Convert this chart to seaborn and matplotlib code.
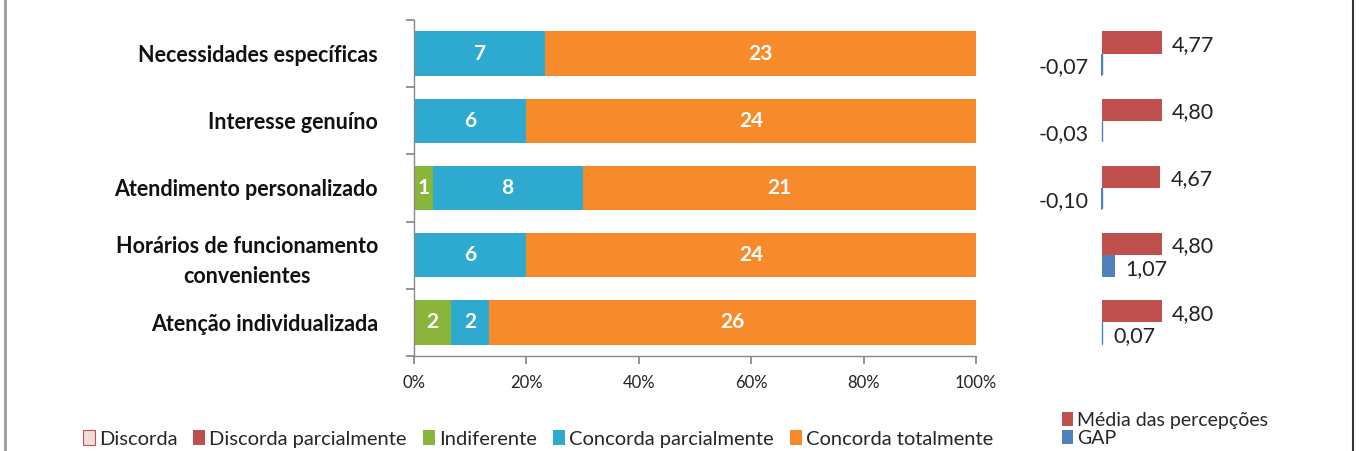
import numpy as np
import pandas as pd
import matplotlib
matplotlib.use('Agg')
import matplotlib.pyplot as plt
import seaborn as sns
from matplotlib.patches import Patch
from matplotlib.lines import Line2D

# ================= dados =================
ITENS = ['Necessidades específicas', 'Interesse genuíno', 'Atendimento personalizado',
         'Horários de funcionamento\nconvenientes', 'Atenção individualizada']
NIVEIS = ['Discorda', 'Discorda parcialmente', 'Indiferente',
          'Concorda parcialmente', 'Concorda totalmente']

discorda = [0, 0, 0, 0, 0]
discorda_parc = [0, 0, 0, 0, 0]
indiferente = [0, 0, 1, 0, 2]
concorda_parc = [7, 6, 8, 6, 2]
concorda_total = [23, 24, 21, 24, 26]

media = [4.77, 4.80, 4.67, 4.80, 4.80]
gap = [-0.07, -0.03, -0.10, 1.07, 0.07]

CORES = ['#F2DCDB', '#C0504D', '#8AB53B', '#2EAAD0', '#F78B2B']
COR_MEDIA = '#C0504D'
COR_GAP = '#4F81BD'
# =========================================

sns.set_theme(style='white')
plt.rcParams['font.family'] = ['Lato', 'DejaVu Sans']


def fmt(v):
    return f'{v:.2f}'.replace('.', ',')


contagens = np.array([discorda, discorda_parc, indiferente, concorda_parc, concorda_total], dtype=float)
total = contagens.sum(axis=0)
pct = contagens / total * 100
acum = np.cumsum(pct, axis=0)

fig = plt.figure(figsize=(13.66, 4.51), dpi=100)
ax = fig.add_axes([414 / 1366, 1 - 356 / 451, 562 / 1366, 336 / 451])

# barras empilhadas: desenha do acumulado maior para o menor
for i in range(len(NIVEIS) - 1, -1, -1):
    df = pd.DataFrame({'item': ITENS, 'valor': acum[i]})
    sns.barplot(data=df, x='valor', y='item', orient='h', color=CORES[i],
                saturation=1, width=0.66, ax=ax, edgecolor='none')

for j in range(len(ITENS)):
    for i in range(len(NIVEIS)):
        if contagens[i, j] > 0:
            centro = acum[i, j] - pct[i, j] / 2
            ax.text(centro, j, f'{int(contagens[i, j])}', ha='center', va='center',
                    color='white', fontsize=15, fontweight='bold')

ax.set_xlim(0, 100)
ax.set_ylim(len(ITENS) - 0.5, -0.5)
ax.set_xticks(np.arange(0, 101, 20))
ax.set_xticklabels([f'{v}%' for v in range(0, 101, 20)], fontsize=12, color='#222222')
ax.set_yticks(np.arange(-0.5, len(ITENS), 1))
ax.set_yticklabels([])
ax.set_yticks(np.arange(len(ITENS)), minor=True)
ax.set_yticklabels(ITENS, minor=True, fontsize=15.5, fontweight='bold',
                   multialignment='center', color='#111111', linespacing=1.5)
ax.tick_params(axis='y', which='minor', length=0, pad=26)
ax.tick_params(axis='y', which='major', length=6, color='#888888', direction='out', left=True)
ax.tick_params(axis='x', length=6, color='#888888', direction='out', bottom=True, pad=8)
ax.set_xlabel('')
ax.set_ylabel('')
for s in ['top', 'right']:
    ax.spines[s].set_visible(False)
for s in ['left', 'bottom']:
    ax.spines[s].set_color('#888888')
    ax.spines[s].set_linewidth(1)

# painel da direita: média e GAP
ax2 = fig.add_axes([1030 / 1366, 1 - 356 / 451, 270 / 1366, 336 / 451])
df2 = pd.DataFrame({
    'item': ITENS * 2,
    'valor': media + gap,
    'serie': ['Média das percepções'] * len(ITENS) + ['GAP'] * len(ITENS),
})
sns.barplot(data=df2, x='valor', y='item', hue='serie', orient='h',
            palette=[COR_MEDIA, COR_GAP], saturation=1, width=0.66,
            ax=ax2, legend=False, edgecolor='none')
ax2.set_xlim(-72 / 12.5, 198 / 12.5)
ax2.set_ylim(len(ITENS) - 0.5, -0.5)
ax2.axis('off')

for j in range(len(ITENS)):
    ax2.text(media[j] + 0.8, j - 0.13, fmt(media[j]), ha='left', va='center',
             fontsize=15.5, color='#222222')
    g = gap[j]
    if g < 0:
        ax2.plot([0, 0], [j, j + 0.3], color=COR_GAP, lw=1)
        ax2.text(-1.1, j + 0.2, fmt(g), ha='right', va='center', fontsize=15.5, color='#222222')
    else:
        if g < 0.3:
            ax2.plot([0, 0], [j, j + 0.3], color=COR_GAP, lw=1)
        ax2.text(max(g, 0) + 0.8, j + 0.2, fmt(g), ha='left', va='center',
                 fontsize=15.5, color='#222222')

# legendas
h1 = [Patch(facecolor=CORES[0], edgecolor='#C0504D', lw=0.8)] + \
     [Patch(facecolor=c, edgecolor='none') for c in CORES[1:]]
fig.legend(h1, NIVEIS, loc='center', bbox_to_anchor=(538 / 1366, 1 - 439 / 451),
           ncol=5, frameon=False, fontsize=14.5, handlelength=0.6, handleheight=0.7,
           handletextpad=0.2, columnspacing=0.8, borderpad=0)
h2 = [Patch(facecolor=COR_MEDIA, edgecolor='none'), Patch(facecolor=COR_GAP, edgecolor='none')]
fig.legend(h2, ['Média das percepções', 'GAP'], loc='upper left',
           bbox_to_anchor=(1052 / 1366, 1 - 402 / 451), ncol=1, frameon=False,
           fontsize=14, handlelength=0.6, handleheight=0.7, handletextpad=0.2,
           labelspacing=0.05, borderpad=0)

# bordas laterais da moldura
fig.add_artist(Line2D([5 / 1366, 5 / 1366], [0, 1], color='#999999', lw=2))
fig.add_artist(Line2D([1353 / 1366, 1353 / 1366], [0, 1], color='#333333', lw=1.5))

fig.savefig('out.png', dpi=100)
